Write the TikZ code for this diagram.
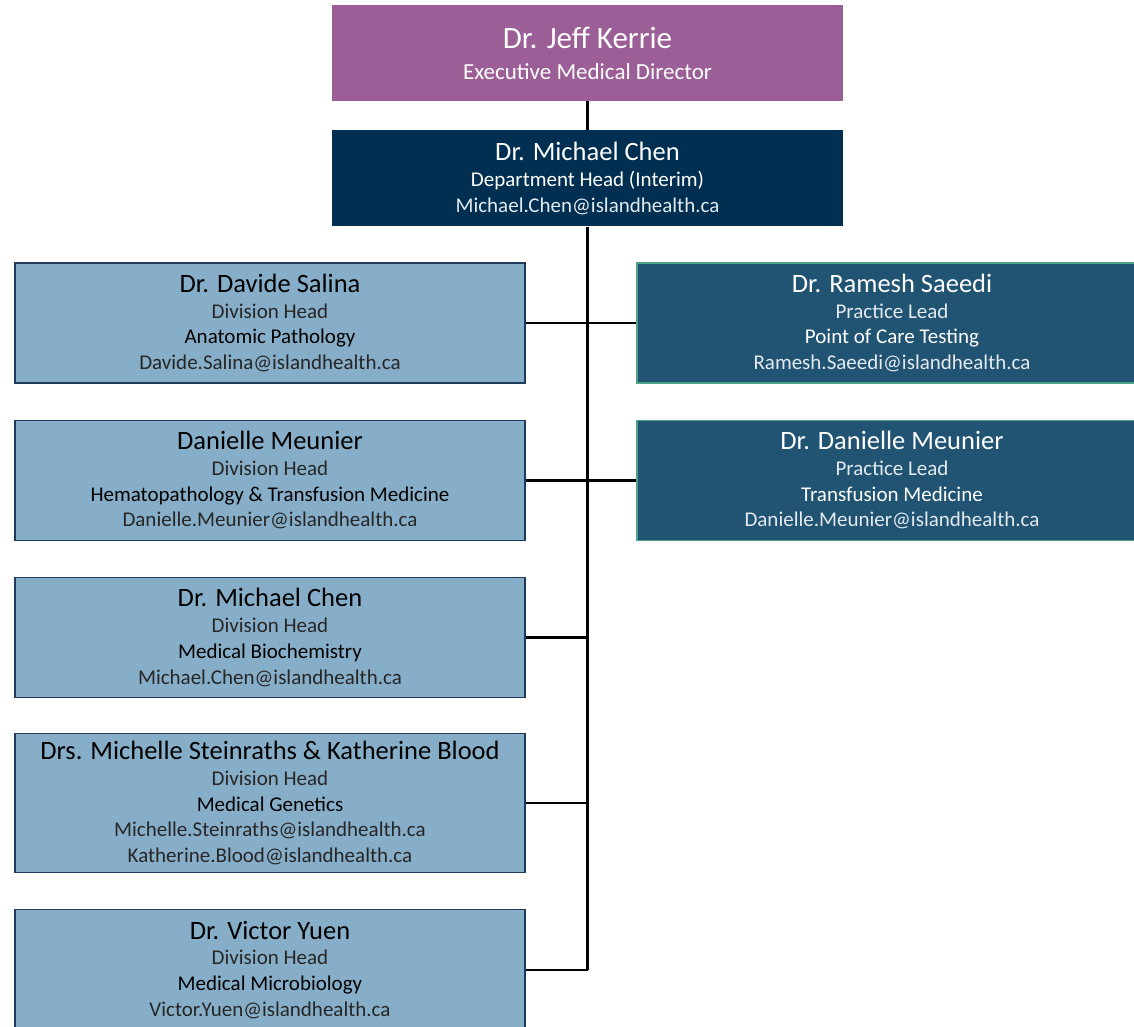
\documentclass[tikz,border=0pt]{standalone}
\usepackage{fontspec}
\setmainfont{Carlito}
\usetikzlibrary{positioning}
\definecolor{execpurple}{HTML}{9B5E96}
\definecolor{deptnavy}{HTML}{002F51}
\definecolor{divblue}{HTML}{87AEC8}
\definecolor{divedge}{HTML}{1F3A5A}
\definecolor{leadblue}{HTML}{215373}
\definecolor{leadedge}{HTML}{4FA38A}
\definecolor{divsoft}{HTML}{262626}
\definecolor{leadsoft}{HTML}{E3EAF0}

\newcommand{\bigname}[1]{{\fontsize{26.5}{27}\selectfont #1}}
\newcommand{\soft}[1]{{\color{softtext}#1}}

\begin{document}
\begin{tikzpicture}[
    x=1pt, y=-1pt,
    card/.style={rectangle, inner sep=0pt, align=center,
                 font=\fontsize{21}{25.8}\selectfont},
    exec/.style={card, fill=execpurple, text=white,
                 minimum width=511pt, minimum height=96pt},
    dept/.style={card, fill=deptnavy, text=white,
                 minimum width=511pt, minimum height=96pt,
                 execute at begin node=\colorlet{softtext}{leadsoft}},
    division/.style={card, fill=divblue, draw=divedge, line width=1.2pt,
                     text=black, minimum width=510pt, minimum height=120pt,
                     execute at begin node=\colorlet{softtext}{divsoft}},
    lead/.style={card, fill=leadblue, draw=leadedge, line width=1.2pt,
                 text=white, minimum width=510pt, minimum height=120pt,
                 execute at begin node=\colorlet{softtext}{leadsoft}},
    link/.style={draw=black, line width=2.6pt},
]
\useasboundingbox (0,0) rectangle (1134,1026);
\fill[white] (0,0) rectangle (1134,1026);

% Top of the chart
\node[exec] (director) at (587.5,53)
    {{\fontsize{31}{32}\selectfont Dr. Jeff Kerrie}\\[5pt]
     {\fontsize{23}{24}\selectfont Executive Medical Director}};
\node[dept, below=29pt of director] (head)
    {\bigname{Dr. Michael Chen}\\
     Department Head (Interim)\\
     \soft{Michael.Chen@islandhealth.ca}};

% Divisions (left column)
\node[division] (salina) at (270,323)
    {\bigname{Dr. Davide Salina}\\
     \soft{Division Head}\\
     Anatomic Pathology\\
     \soft{Davide.Salina@islandhealth.ca}};
\node[division, below=36pt of salina] (meunier)
    {\bigname{Danielle Meunier}\\
     \soft{Division Head}\\
     Hematopathology \& Transfusion Medicine\\
     \soft{Danielle.Meunier@islandhealth.ca}};
\node[division, below=36pt of meunier] (chen)
    {\bigname{Dr. Michael Chen}\\
     \soft{Division Head}\\
     Medical Biochemistry\\
     \soft{Michael.Chen@islandhealth.ca}};
\node[division, below=35pt of chen, minimum height=139pt] (genetics)
    {\bigname{Drs. Michelle Steinraths \& Katherine Blood}\\
     \soft{Division Head}\\
     Medical Genetics\\
     \soft{Michelle.Steinraths@islandhealth.ca}\\
     \soft{Katherine.Blood@islandhealth.ca}};
\node[division, below=36pt of genetics] (yuen)
    {\bigname{Dr. Victor Yuen}\\
     \soft{Division Head}\\
     Medical Microbiology\\
     \soft{Victor.Yuen@islandhealth.ca}};

% Practice leads (right column)
\node[lead] (saeedi) at (892,323)
    {\bigname{Dr. Ramesh Saeedi}\\
     \soft{Practice Lead}\\
     Point of Care Testing\\
     \soft{Ramesh.Saeedi@islandhealth.ca}};
\node[lead, below=36pt of saeedi] (meunierlead)
    {\bigname{Dr. Danielle Meunier}\\
     \soft{Practice Lead}\\
     Transfusion Medicine\\
     \soft{Danielle.Meunier@islandhealth.ca}};

% Connectors
\draw[link] (director.south) -- (head.north);
\draw[link] (head.south) -- (head.south |- yuen.east);
\draw[link] (salina.east) -- (saeedi.west);
\draw[link] (meunier.east) -- (meunierlead.west);
\foreach \unit in {chen, genetics, yuen}
    \draw[link] (\unit.east) -- (\unit.east -| head.south);

\end{tikzpicture}
\end{document}
